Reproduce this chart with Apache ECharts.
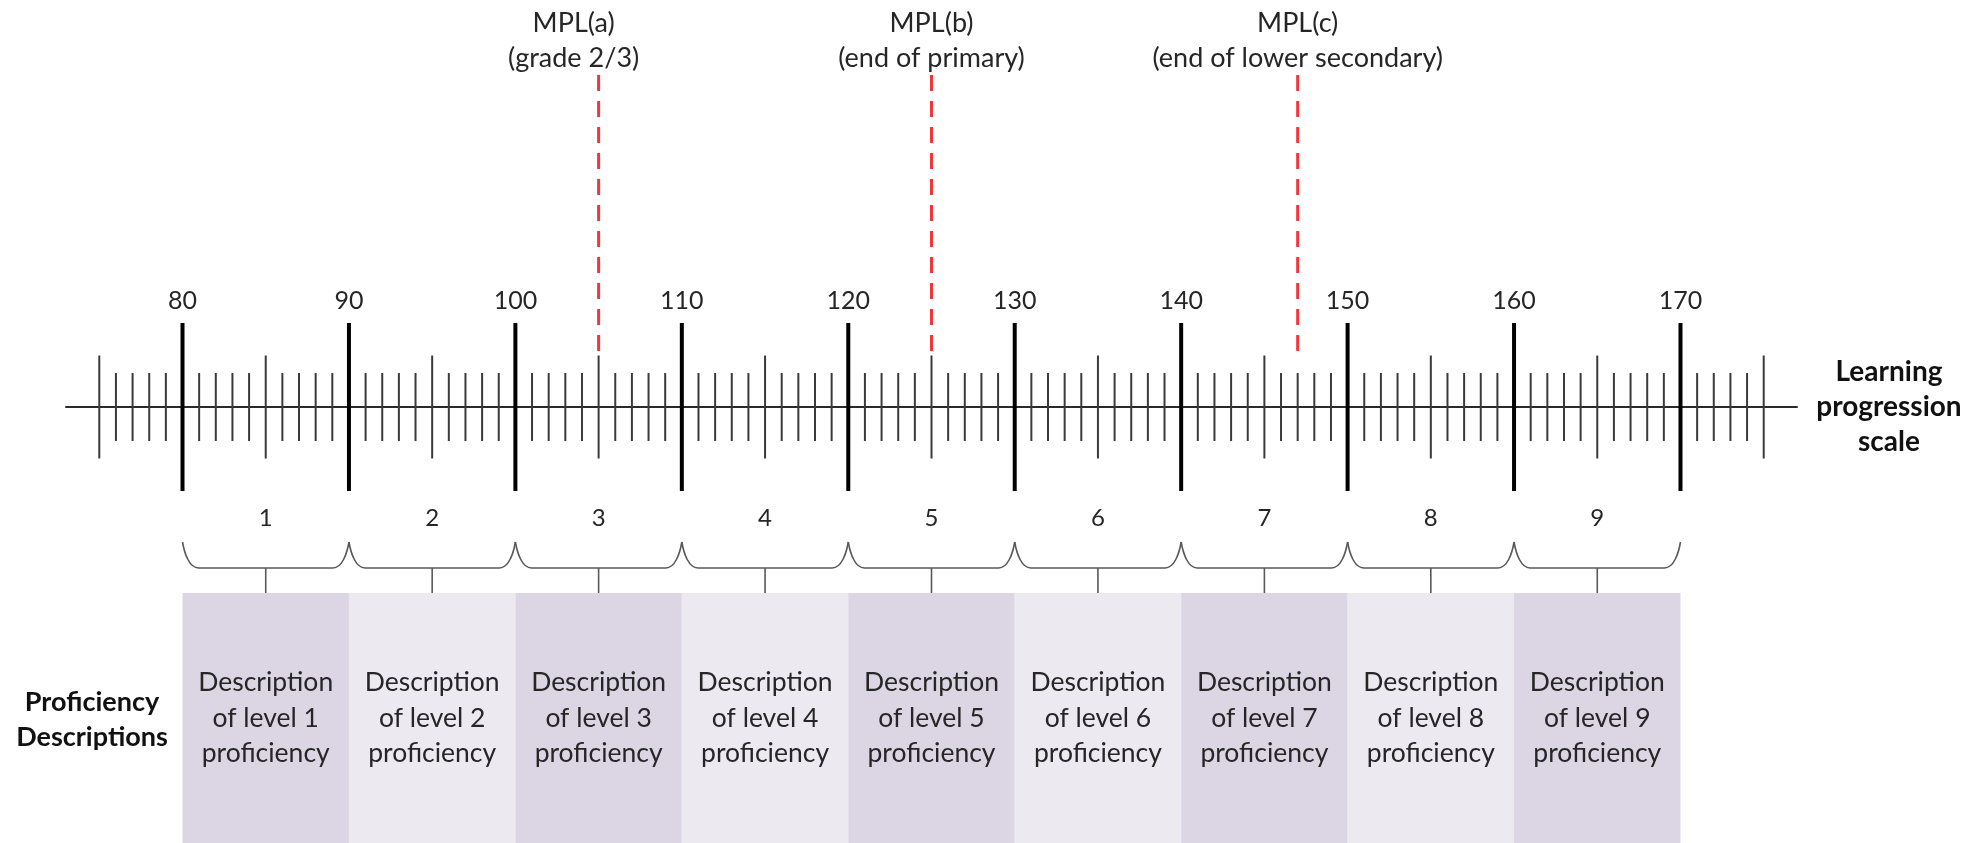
<!DOCTYPE html>
<html><head><meta charset="utf-8">
<script src="https://cdn.jsdelivr.net/npm/echarts@6/dist/echarts.min.js"></script>
<style>html,body{margin:0;padding:0;background:#fff}#chart{width:1977px;height:843px}</style>
</head><body><div id="chart"></div>
<script>
// ---- data ----
const scaleMin = 73;
const scaleMax = 177;
const majorTicks = [80, 90, 100, 110, 120, 130, 140, 150, 160, 170];
const midTicks = [75, 85, 95, 105, 115, 125, 135, 145, 155, 165, 175];
const minorTicks = [
  76, 77, 78, 79, 81, 82, 83, 84, 86, 87, 88, 89,
  91, 92, 93, 94, 96, 97, 98, 99, 101, 102, 103, 104, 106, 107, 108, 109,
  111, 112, 113, 114, 116, 117, 118, 119, 121, 122, 123, 124, 126, 127, 128, 129,
  131, 132, 133, 134, 136, 137, 138, 139, 141, 142, 143, 144, 146, 147, 148, 149,
  151, 152, 153, 154, 156, 157, 158, 159, 161, 162, 163, 164, 166, 167, 168, 169,
  171, 172, 173, 174
];
const mplValues = [105, 125, 147];
const mplNames = ['MPL(a)', 'MPL(b)', 'MPL(c)'];
const mplNotes = ['(grade 2/3)', '(end of primary)', '(end of lower secondary)'];
const levelNames = ['1', '2', '3', '4', '5', '6', '7', '8', '9'];
const levelBounds = [80, 90, 100, 110, 120, 130, 140, 150, 160, 170];
const levelDescriptions = [
  'Description\nof level 1\nproficiency', 'Description\nof level 2\nproficiency',
  'Description\nof level 3\nproficiency', 'Description\nof level 4\nproficiency',
  'Description\nof level 5\nproficiency', 'Description\nof level 6\nproficiency',
  'Description\nof level 7\nproficiency', 'Description\nof level 8\nproficiency',
  'Description\nof level 9\nproficiency'
];
const scaleTitle = 'Learning\nprogression\nscale';
const rowTitle = 'Proficiency\nDescriptions';

// ---- style / layout ----
const FONT = 'Lato, "Open Sans", sans-serif';
const TEXT = '#262626';
const tickHalf = [1, 0.613, 0.405];
const mplLabelShift = [-25, 0, 0];
const boxColors = ['#dcd6e4', '#ece9f1'];

const chart = echarts.init(document.getElementById('chart'), null, {renderer: 'canvas'});

const tickData = []
  .concat(majorTicks.map(v => [v, 0]))
  .concat(midTicks.map(v => [v, 1]))
  .concat(minorTicks.map(v => [v, 2]));
const levelData = levelNames.map((n, i) => [levelBounds[i], levelBounds[i + 1], i]);
const mplData = mplValues.map((v, i) => [v, i]);

function hiddenX(gi) { return {type: 'value', gridIndex: gi, min: scaleMin, max: scaleMax, show: false}; }
function hiddenY(gi, mn, mx) { return {type: 'value', gridIndex: gi, min: mn, max: mx, show: false}; }

const option = {
  animation: false,
  backgroundColor: '#fff',
  grid: [
    {left: 66, right: 180, top: 75, height: 282, outerBoundsMode: 'none'},   // MPL markers
    {left: 66, right: 180, top: 323, height: 168, outerBoundsMode: 'none'},  // scale
    {left: 66, right: 180, top: 542, height: 51, outerBoundsMode: 'none'},   // braces
    {left: 66, right: 180, top: 593, bottom: 0, outerBoundsMode: 'none'}     // boxes
  ],
  xAxis: [
    hiddenX(0),
    {
      type: 'value', gridIndex: 1, min: scaleMin, max: scaleMax, position: 'top',
      axisLine: {show: true, onZero: true, lineStyle: {color: '#2a2a2a', width: 2}},
      axisTick: {show: false}, splitLine: {show: false},
      axisLabel: {customValues: majorTicks, margin: 10, fontSize: 25, color: TEXT, fontFamily: FONT},
      name: scaleTitle, nameLocation: 'end', nameGap: 92,
      nameTextStyle: {fontWeight: 'bold', fontSize: 28, lineHeight: 35, align: 'center',
        verticalAlign: 'middle', color: '#111', fontFamily: FONT}
    },
    hiddenX(2),
    hiddenX(3)
  ],
  yAxis: [hiddenY(0, 0, 1), hiddenY(1, -1, 1), hiddenY(2, 0, 1), hiddenY(3, 0, 1)],
  graphic: [{
    type: 'text', x: 92, y: 720,
    style: {text: rowTitle, font: 'bold 27px ' + FONT, fill: '#111', align: 'center',
      verticalAlign: 'middle', textAlign: 'center', textVerticalAlign: 'middle', lineHeight: 35}
  }],
  series: [
    {
      type: 'custom', name: 'mpl', xAxisIndex: 0, yAxisIndex: 0, clip: false, silent: true,
      data: mplData,
      renderItem(params, api) {
        const i = api.value(1);
        const x = api.coord([api.value(0), 0])[0];
        const cs = params.coordSys;
        return {type: 'group', children: [
          {type: 'line', shape: {x1: x, y1: cs.y, x2: x, y2: cs.y + cs.height},
            style: {stroke: '#f0373c', lineWidth: 3, lineDash: [16, 10]}},
          {type: 'text', style: {text: mplNames[i] + '\n' + mplNotes[i], x: x + mplLabelShift[i], y: cs.y + 1,
            align: 'center', verticalAlign: 'bottom', fontSize: 27, lineHeight: 35, fill: TEXT, fontFamily: FONT}}
        ]};
      }
    },
    {
      type: 'custom', name: 'ticks', xAxisIndex: 1, yAxisIndex: 1, clip: false, silent: true,
      data: tickData,
      renderItem(params, api) {
        const v = api.value(0), k = api.value(1);
        const p1 = api.coord([v, tickHalf[k]]), p2 = api.coord([v, -tickHalf[k]]);
        return {type: 'line', shape: {x1: p1[0], y1: p1[1], x2: p2[0], y2: p2[1]},
          style: {stroke: k === 0 ? '#000' : '#3a3a3a', lineWidth: k === 0 ? 4 : 2}};
      }
    },
    {
      type: 'custom', name: 'braces', xAxisIndex: 2, yAxisIndex: 2, clip: false, silent: true,
      data: levelData,
      renderItem(params, api) {
        const xl = api.coord([api.value(0), 0])[0];
        const xh = api.coord([api.value(1), 0])[0];
        const i = api.value(2);
        const cs = params.coordSys;
        const top = cs.y, bar = cs.y + 26, end = cs.y + cs.height, mid = (xl + xh) / 2;
        const d = 'M' + xl + ' ' + top +
          ' C' + (xl + 2) + ' ' + (top + 12) + ' ' + (xl + 7) + ' ' + bar + ' ' + (xl + 16) + ' ' + bar +
          ' L' + (xh - 16) + ' ' + bar +
          ' C' + (xh - 7) + ' ' + bar + ' ' + (xh - 2) + ' ' + (top + 12) + ' ' + xh + ' ' + top;
        return {type: 'group', children: [
          {type: 'path', shape: {pathData: d}, style: {fill: 'none', stroke: '#595959', lineWidth: 1.6}},
          {type: 'line', shape: {x1: mid, y1: bar, x2: mid, y2: end}, style: {stroke: '#595959', lineWidth: 1.6}},
          {type: 'text', style: {text: levelNames[i], x: mid, y: top - 24, align: 'center', verticalAlign: 'middle',
            fontSize: 24, fill: TEXT, fontFamily: FONT}}
        ]};
      }
    },
    {
      type: 'custom', name: 'boxes', xAxisIndex: 3, yAxisIndex: 3, clip: false, silent: true,
      data: levelData,
      renderItem(params, api) {
        const xl = api.coord([api.value(0), 0])[0];
        const xh = api.coord([api.value(1), 0])[0];
        const i = api.value(2);
        const cs = params.coordSys;
        return {type: 'group', children: [
          {type: 'rect', shape: {x: xl, y: cs.y, width: xh - xl, height: cs.height},
            style: {fill: boxColors[i % 2]}},
          {type: 'text', style: {text: levelDescriptions[i], x: (xl + xh) / 2, y: cs.y + cs.height / 2,
            align: 'center', verticalAlign: 'middle', fontSize: 26.5, lineHeight: 35.5, fill: TEXT, fontFamily: FONT}}
        ]};
      }
    }
  ]
};
chart.setOption(option);
</script>
</body></html>
